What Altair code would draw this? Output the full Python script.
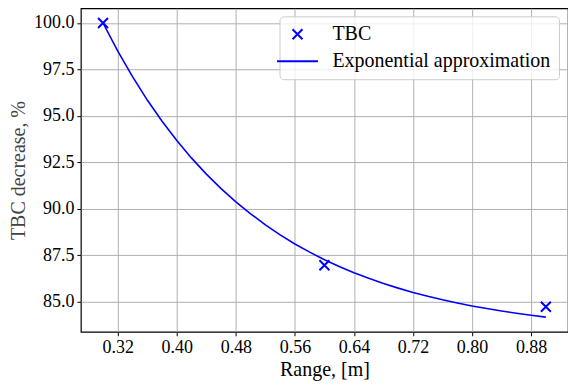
import altair as alt
import pandas as pd

# Measured points
pt_x = [0.30, 0.60, 0.90]
pt_y = [100.0, 86.95, 84.72]

# Exponential approximation curve
curve_x = [0.30, 0.32, 0.34, 0.36, 0.38, 0.40, 0.42, 0.44, 0.46, 0.48, 0.50,
           0.52, 0.54, 0.56, 0.58, 0.60, 0.62, 0.64, 0.66, 0.68, 0.70,
           0.72, 0.74, 0.76, 0.78, 0.80, 0.82, 0.84, 0.86, 0.88, 0.90]
curve_y = [100.00, 98.48, 97.11, 95.85, 94.71, 93.67, 92.72, 91.86, 91.08, 90.37, 89.72,
           89.13, 88.59, 88.10, 87.66, 87.25, 86.89, 86.55, 86.25, 85.97, 85.72,
           85.49, 85.28, 85.09, 84.92, 84.76, 84.62, 84.49, 84.37, 84.26, 84.16]

series_names = ["TBC", "Exponential approximation"]
x_ticks = [0.32, 0.40, 0.48, 0.56, 0.64, 0.72, 0.80, 0.88]
y_ticks = [85.0, 87.5, 90.0, 92.5, 95.0, 97.5, 100.0]

pts = pd.DataFrame({"x": pt_x, "y": pt_y, "series": ["TBC"] * len(pt_x)})
curve = pd.DataFrame({"x": curve_x, "y": curve_y})

FONT = "Liberation Serif"
BLUE = "#0000ff"
CROSS = "M-1,-1L1,1M1,-1L-1,1"
DASH = "M-4.1,0L4.1,0"

xs = alt.Scale(domain=[0.27, 0.93], nice=False, zero=False)
ys = alt.Scale(domain=[83.37, 100.79], nice=False, zero=False)

axis_style = dict(
    labelFont=FONT, titleFont=FONT, labelFontSize=18, titleFontSize=20,
    labelColor="black", titleFontWeight="normal",
    grid=True, gridColor="#b0b0b0", gridWidth=1,
    domain=False, tickColor="black", tickSize=4, labelPadding=3,
)

x_axis = alt.Axis(values=x_ticks, format=".2f", title="Range, [m]",
                  titleColor="black", titlePadding=3, **axis_style)
y_axis = alt.Axis(values=y_ticks, format=".1f", title="TBC decrease, %",
                  titleColor="#444444", titlePadding=5, **axis_style)

line = alt.Chart(curve).mark_line(color=BLUE, strokeWidth=1.6).encode(
    x=alt.X("x:Q", scale=xs, axis=x_axis),
    y=alt.Y("y:Q", scale=ys, axis=y_axis),
)

legend = alt.Legend(
    title=None, orient="none", legendX=199, legendY=8,
    labelFont=FONT, labelFontSize=20, labelColor="black", labelLimit=400,
    symbolSize=100, symbolStrokeWidth=2, labelOffset=25,
    rowPadding=7, padding=8,
    fillColor="rgba(255,255,255,0.8)", strokeColor="#cccccc", cornerRadius=4,
)

points = alt.Chart(pts).mark_point(filled=False, strokeWidth=2, size=100, opacity=1).encode(
    x=alt.X("x:Q", scale=xs),
    y=alt.Y("y:Q", scale=ys),
    color=alt.Color("series:N", scale=alt.Scale(domain=series_names, range=[BLUE, BLUE]), legend=legend),
    shape=alt.Shape("series:N", scale=alt.Scale(domain=series_names, range=[CROSS, DASH]), legend=legend),
)

chart = alt.layer(line, points).properties(
    width=488, height=324,
    autosize=alt.AutoSizeParams(type="none"),
    padding={"left": 73, "top": 0, "right": 0, "bottom": 54},
).configure(
    font=FONT
).configure_view(
    stroke="black", strokeWidth=1.2
).configure_legend(
    labelFont=FONT, labelFontSize=20, labelLimit=400
)

chart.save("out.html", embed_options={"renderer": "svg", "actions": False})
